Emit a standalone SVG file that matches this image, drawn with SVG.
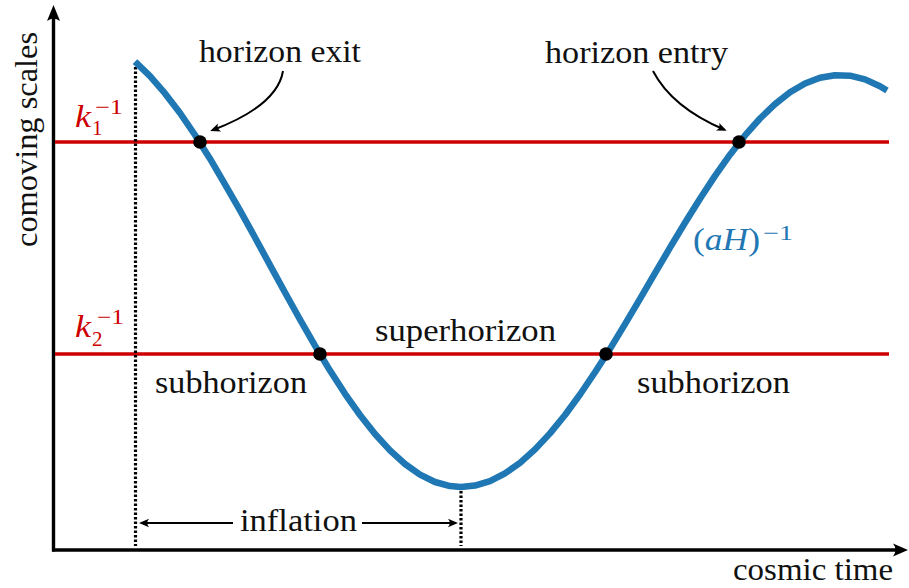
<svg xmlns="http://www.w3.org/2000/svg" width="909" height="588" viewBox="0 0 909 588" font-family="'Liberation Serif', 'DejaVu Serif', 'Noto Serif', serif">
<style>
  .t { font-size: 31px; fill: #111; }
  .red { fill: #cc0000; }
  .blue { fill: #1f77b4; }
  .sm { font-size: 21px; }
  .it { font-style: italic; }
  .axis { stroke: #000; stroke-width: 3.4; fill: none; }
  .kline { stroke: #cc0000; stroke-width: 3.6; fill: none; }
  .curve { stroke: #1f77b4; stroke-width: 6.5; fill: none; stroke-linejoin: round; }
  .dot { stroke: #000; stroke-width: 3.2; stroke-dasharray: 2.4 2.1; fill: none; }
  .arr { stroke: #000; stroke-width: 2; fill: none; marker-end: url(#ah); }
</style>
<defs>
  <marker id="ah" markerUnits="userSpaceOnUse" viewBox="-11 -5 12 10" markerWidth="12" markerHeight="10" refX="-3" refY="0" orient="auto">
    <path d="M0,0 L-10,-4.2 Q-6.5,0 -10,4.2 Z" fill="#000"/>
  </marker>
</defs>

<g id="axes">
  <line class="axis" x1="53.5" y1="551.5" x2="53.5" y2="15"/>
  <path d="M53.5,5 L47,21 Q53.5,16 60,21 Z" fill="#000"/>
  <line class="axis" x1="52" y1="550" x2="899" y2="550"/>
  <path d="M908,550 L893,543.5 Q898,550 893,556.5 Z" fill="#000"/>
</g>

<g id="scale-lines">
  <line class="kline" x1="55" y1="142" x2="889" y2="142"/>
  <line class="kline" x1="55" y1="354" x2="889" y2="354"/>
</g>

<g id="dotted-lines">
  <line class="dot" x1="135.5" y1="67" x2="135.5" y2="546"/>
  <line class="dot" x1="461" y1="491" x2="461" y2="546"/>
</g>

<g id="hubble-curve">
  <polyline class="curve" points="135,61.6 150,76.2 165,93.4 180,113 195,135 210,158.7 225,184.3 240,210.4 255,237.5 270,265.1 285,292.5 300,319.5 315,345.6 330,370.6 345,393.8 360,415 375,434 390,450.4 405,464 420,474.6 435,482 450,486.1 461,487 475,485.6 490,481.1 505,473.4 520,462.8 535,449.4 550,433.4 565,415 580,394.5 595,372.3 610,348.9 625,324.1 640,298.8 655,273.2 670,247.7 685,222.8 700,198.7 715,175.9 730,154.7 745,135.4 760,118.5 775,104.1 790,92.3 805,83.5 820,77.8 835,75.2 850,75.7 865,79.4 880,86.3 887,90.6"/>
</g>

<g id="crossings">
  <circle cx="200" cy="142" r="6.8" fill="#000"/>
  <circle cx="320" cy="354" r="6.8" fill="#000"/>
  <circle cx="606" cy="354" r="6.8" fill="#000"/>
  <circle cx="739" cy="142" r="6.8" fill="#000"/>
</g>

<g id="connectors">
  <path class="arr" d="M283,71 C279,95 255,114 213,130"/>
  <path class="arr" d="M653,71 C666,96 690,115 724,129.5"/>
  <line class="arr" x1="233" y1="523" x2="142" y2="523"/>
  <line class="arr" x1="362" y1="523" x2="455" y2="523"/>
</g>

<g id="label-horizon-exit">
  <text class="t" x="199" y="62" textLength="162" lengthAdjust="spacingAndGlyphs">horizon exit</text>
</g>
<g id="label-horizon-entry">
  <text class="t" x="545" y="63" textLength="183" lengthAdjust="spacingAndGlyphs">horizon entry</text>
</g>
<g id="label-superhorizon">
  <text class="t" x="375" y="341" textLength="181" lengthAdjust="spacingAndGlyphs">superhorizon</text>
</g>
<g id="label-subhorizon-left">
  <text class="t" x="155" y="393" textLength="152" lengthAdjust="spacingAndGlyphs">subhorizon</text>
</g>
<g id="label-subhorizon-right">
  <text class="t" x="637" y="393" textLength="153" lengthAdjust="spacingAndGlyphs">subhorizon</text>
</g>
<g id="label-inflation">
  <text class="t" x="240" y="531" textLength="117" lengthAdjust="spacingAndGlyphs">inflation</text>
</g>
<g id="label-cosmic-time">
  <text class="t" x="733" y="580" textLength="160" lengthAdjust="spacingAndGlyphs">cosmic time</text>
</g>
<g id="label-comoving-scales">
  <text class="t" transform="translate(36.5,247) rotate(-90)" x="0" y="0" textLength="215" lengthAdjust="spacingAndGlyphs">comoving scales</text>
</g>
<g id="label-k1">
  <text class="t red it" x="75" y="127" textLength="16" lengthAdjust="spacingAndGlyphs">k</text>
  <text class="t red sm" x="92" y="135">1</text>
  <text class="t red sm" x="95" y="114" textLength="28" lengthAdjust="spacingAndGlyphs">−1</text>
</g>
<g id="label-k2">
  <text class="t red it" x="75" y="337" textLength="16" lengthAdjust="spacingAndGlyphs">k</text>
  <text class="t red sm" x="92" y="346">2</text>
  <text class="t red sm" x="97" y="324" textLength="27" lengthAdjust="spacingAndGlyphs">−1</text>
</g>
<g id="label-aH">
  <text class="t blue" x="693" y="250" textLength="67" lengthAdjust="spacingAndGlyphs">(<tspan class="it">aH</tspan>)</text>
  <text class="t blue sm" x="763" y="240" textLength="30" lengthAdjust="spacingAndGlyphs">−1</text>
</g>
</svg>
